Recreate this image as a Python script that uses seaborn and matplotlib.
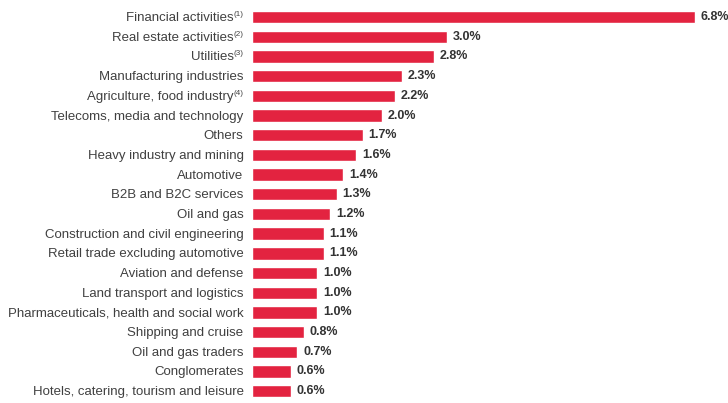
import matplotlib
matplotlib.use("Agg")
import matplotlib.pyplot as plt
import matplotlib.transforms as mtransforms
import seaborn as sns
import pandas as pd

sectors = [
    "Financial activities",
    "Real estate activities",
    "Utilities",
    "Manufacturing industries",
    "Agriculture, food industry",
    "Telecoms, media and technology",
    "Others",
    "Heavy industry and mining",
    "Automotive",
    "B2B and B2C services",
    "Oil and gas",
    "Construction and civil engineering",
    "Retail trade excluding automotive",
    "Aviation and defense",
    "Land transport and logistics",
    "Pharmaceuticals, health and social work",
    "Shipping and cruise",
    "Oil and gas traders",
    "Conglomerates",
    "Hotels, catering, tourism and leisure",
]
footnotes = ["(1)", "(2)", "(3)", "", "(4)", "", "", "", "", "", "", "", "",
             "", "", "", "", "", "", ""]
shares = [6.8, 3.0, 2.8, 2.3, 2.2, 2.0, 1.7, 1.6, 1.4, 1.3, 1.2, 1.1, 1.1,
          1.0, 1.0, 1.0, 0.8, 0.7, 0.6, 0.6]

df = pd.DataFrame({"sector": sectors, "share": shares})

sns.set_theme(style="white")
plt.rcParams["font.family"] = ["Liberation Sans", "DejaVu Sans"]

fig = plt.figure(figsize=(7.28, 4.03), dpi=100)
ax = fig.add_axes([0.346, 0.005, 0.654, 0.977])

sns.barplot(data=df, x="share", y="sector", color="#E32340", width=0.63,
            saturation=1, ax=ax)

ax.set_xlim(0, 7.31)
ax.set_xlabel("")
ax.set_ylabel("")
ax.set_xticks([])
ax.set_yticklabels([])
ax.tick_params(axis="y", length=0)
for s in ax.spines.values():
    s.set_visible(False)

# category labels: right-aligned left of the bars, with small superscript notes
label_color = "#404040"
label_size = 9.5
renderer = fig.canvas.get_renderer()
base = mtransforms.blended_transform_factory(ax.transAxes, ax.transData)
for i, (name, note) in enumerate(zip(sectors, footnotes)):
    anchor = base + mtransforms.ScaledTranslation(-6 / 72, -2.9 / 72,
                                                  fig.dpi_scale_trans)
    shift_px = 0.0
    if note:
        sup = ax.text(0, i, note, ha="right", va="baseline", fontsize=5.8,
                      color=label_color,
                      transform=anchor + mtransforms.ScaledTranslation(
                          0, 3.6 / 72, fig.dpi_scale_trans))
        shift_px = sup.get_window_extent(renderer).width
    ax.text(0, i, name, ha="right", va="baseline", fontsize=label_size,
            color=label_color,
            transform=anchor + mtransforms.ScaledTranslation(
                -shift_px / fig.dpi, 0, fig.dpi_scale_trans))

for i, v in enumerate(shares):
    ax.text(v + 0.09, i, f"{v:.1f}%", va="center", ha="left",
            fontsize=9, fontweight="bold", color="#333333",
            family=["Liberation Sans Narrow", "Liberation Sans"])

fig.savefig("out.png", dpi=100)
